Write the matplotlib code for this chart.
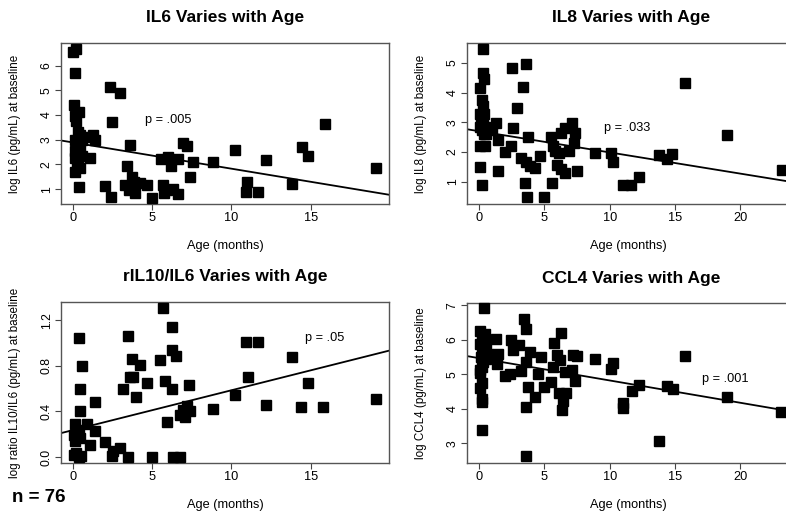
import matplotlib
matplotlib.use("Agg")
import matplotlib.pyplot as plt

plt.rcParams["font.family"] = ["Liberation Sans", "DejaVu Sans"]

# ── Data (age in months, log value) ──
il6_age = [0.0, 0.2, 0.13, 0.02, 0.34, 0.1, 0.15, 0.3, 0.45, 0.1, 0.55, 0.25, 0.45,
           0.1, 0.35, 0.55, 0.13, 0.3, 0.23, 0.4, 0.13, 0.34, 1.07, 1.28, 1.38, 0.9,
           2.33, 2.96, 2.44, 3.6, 3.38, 2.0, 2.37, 3.25, 3.5, 3.7, 3.85, 3.9, 4.2,
           4.65, 4.96, 3.6, 5.55, 6.0, 6.2, 6.6, 5.7, 5.9, 6.3, 6.6, 5.75, 6.95,
           7.2, 7.35, 7.55, 8.85, 10.2, 10.95, 10.9, 11.7, 12.2, 13.85, 14.45,
           14.85, 15.9, 19.1]
il6_val = [6.55, 6.67, 5.7, 4.41, 4.14, 3.95, 3.75, 3.3, 3.2, 3.0, 3.0, 2.85, 2.75,
           2.55, 2.45, 2.35, 2.25, 2.2, 2.0, 1.85, 1.68, 1.1, 2.25, 3.2, 3.0, 3.1,
           5.15, 4.89, 3.74, 2.79, 1.92, 1.13, 0.68, 1.17, 0.95, 1.5, 1.3, 0.85, 1.25,
           1.17, 0.64, 1.1, 2.21, 2.32, 1.92, 2.21, 1.15, 0.95, 1.0, 0.8, 0.85, 2.88,
           2.75, 1.5, 2.12, 2.12, 2.6, 1.31, 0.9, 0.9, 2.19, 1.22, 2.7,
           2.35, 3.62, 1.85]

il8_age = [0.33, 0.33, 0.35, 0.08, 0.2, 0.3, 0.05, 0.4, 0.15, 0.3, 0.05, 0.45, 0.2,
           0.6, 0.8, 1.0, 0.35, 0.55, 0.1, 0.45, 0.1, 0.25, 1.32, 1.45, 1.45, 2.5,
           3.56, 3.38, 2.92, 2.6, 2.4, 1.98, 3.72, 3.18, 3.6, 3.87, 4.25, 4.68, 3.5,
           3.69, 4.96, 5.57, 5.47, 5.65, 5.8, 6.1, 6.23, 6.54, 7.12, 7.3, 7.23, 6.9,
           5.95, 6.28, 6.59, 7.48, 8.83, 10.1, 10.28, 11.0, 11.63, 12.2, 13.8,
           14.38, 14.76, 15.78, 19.0, 23.2]
il8_val = [5.47, 4.65, 4.45, 4.15, 3.75, 3.55, 3.28, 3.28, 3.05, 2.95, 2.85, 2.85, 2.75,
           2.8, 2.75, 2.8, 2.62, 2.6, 2.2, 2.2, 1.48, 0.89, 2.97, 2.4, 1.35, 4.83,
           4.95, 4.2, 3.48, 2.8, 2.2, 2.0, 2.49, 1.8, 1.65, 1.54, 1.45, 1.85, 0.97,
           0.47, 0.47, 0.97, 2.49, 2.2, 2.05, 1.98, 2.65, 2.82, 2.99, 2.65, 2.3, 2.04,
           1.57, 1.42, 1.31, 1.37, 1.96, 1.98, 1.65, 0.89, 0.89, 1.15, 1.9,
           1.76, 1.93, 4.33, 2.56, 1.4]

ratio_age = [0.34, 0.55, 0.4, 0.4, 1.39, 0.13, 0.86, 0.34, 0.02, 0.45, 0.13, 1.07, 1.39,
             0.02, 0.34, 0.2, 0.5, 2.02, 2.44, 2.54, 2.96, 3.49, 4.96, 6.3, 6.72,
             3.49, 3.17, 3.7, 4.22, 3.6, 3.8, 3.97, 4.68, 5.48, 5.69, 6.22, 6.22,
             6.48, 5.8, 6.22, 7.33, 5.94, 6.74, 6.95, 7.2, 7.37, 7.06, 8.84, 10.2,
             10.94, 11.68, 11.05, 12.2, 13.84, 14.41, 14.83, 15.78, 19.14]
ratio_val = [1.04, 0.80, 0.60, 0.40, 0.48, 0.29, 0.29, 0.24, 0.19, 0.17, 0.14, 0.11, 0.23,
             0.02, 0.0, 0.04, 0.01, 0.13, 0.01, 0.05, 0.08, 0.0, 0.0, 0.0, 0.0,
             1.06, 0.60, 0.86, 0.81, 0.70, 0.70, 0.53, 0.65, 0.85, 1.31, 1.14, 0.94,
             0.89, 0.67, 0.60, 0.63, 0.31, 0.37, 0.41, 0.45, 0.40, 0.35, 0.42, 0.54,
             1.01, 1.01, 0.70, 0.46, 0.88, 0.44, 0.65, 0.44, 0.51]

ccl4_age = [0.36, 0.1, 0.43, 0.25, 0.05, 0.56, 0.2, 0.4, 0.7, 0.15, 0.5, 0.3, 0.8,
            0.05, 0.1, 0.25, 0.1, 0.25, 0.18, 0.22, 0.18, 1.32, 1.45, 1.37, 1.96,
            2.34, 2.47, 2.6, 3.05, 3.23, 3.4, 3.6, 3.6, 3.92, 3.74, 3.6, 3.56, 4.25,
            4.5, 4.7, 4.94, 5.52, 5.73, 5.65, 5.95, 6.16, 6.23, 6.1, 6.41, 6.36, 6.67,
            6.54, 7.12, 7.3, 7.18, 7.48, 8.83, 10.1, 10.23, 10.99, 11.04, 11.7, 12.2,
            13.8, 14.38, 14.81, 15.78, 19.0, 23.08]
ccl4_val = [6.92, 6.26, 6.18, 6.04, 5.89, 5.87, 5.75, 5.65, 5.6, 5.5, 5.45, 5.35, 5.5,
            5.12, 5.05, 5.2, 4.61, 4.75, 4.3, 4.2, 3.4, 6.04, 5.6, 5.29, 4.95,
            5.0, 5.99, 5.72, 5.84, 5.1, 6.61, 6.32, 5.36, 5.65, 4.64, 4.06, 2.63, 4.35,
            5.02, 5.5, 4.64, 4.78, 5.91, 5.2, 5.55, 5.41, 6.2, 4.45, 4.23, 3.98, 4.45,
            5.07, 5.12, 4.81, 5.55, 5.53, 5.46, 5.17, 5.33, 4.16, 4.03, 4.51, 4.7,
            3.08, 4.66, 4.59, 5.53, 4.33, 3.92]

# fitted lines (intercept, slope) and p-value labels
fits = [(2.89, -0.106), (2.70, -0.0714), (0.237, 0.0349), (5.47, -0.0647)]
p_labels = ["p = .005", "p = .033", "p = .05", "p = .001"]
p_pos = [(6.0, 3.8), (11.3, 2.82), (15.9, 1.04), (18.8, 4.88)]

titles = ["IL6 Varies with Age", "IL8 Varies with Age",
          "rIL10/IL6 Varies with Age", "CCL4 Varies with Age"]
ylabels = ["log IL6 (pg/mL) at baseline", "log IL8 (pg/mL) at baseline",
           "log ratio IL10/IL6 (pg/mL) at baseline", "log CCL4 (pg/mL) at baseline"]
xlims = [(-0.77, 19.95), (-0.93, 24.25), (-0.77, 19.95), (-0.93, 24.25)]
ylims = [(0.40, 6.92), (0.25, 5.67), (-0.052, 1.36), (2.43, 7.07)]
xticks = [[0, 5, 10, 15], [0, 5, 10, 15, 20], [0, 5, 10, 15], [0, 5, 10, 15, 20]]
yticks = [[1, 2, 3, 4, 5, 6], [1, 2, 3, 4, 5], [0.0, 0.4, 0.8, 1.2], [3, 4, 5, 6, 7]]
ytick_labels = [None, None, ["0.0", "0.4", "0.8", "1.2"], None]

# ── Layout in pixels (left, top, right, bottom) ──
W, H = 786, 513
boxes = [(61, 43, 389, 204), (467, 43, 796, 204),
         (61, 302, 389, 463), (467, 303, 796, 463)]

fig = plt.figure(figsize=(W / 100, H / 100), dpi=100)
data = [(il6_age, il6_val), (il8_age, il8_val),
        (ratio_age, ratio_val), (ccl4_age, ccl4_val)]

for i, (l, t, r, b) in enumerate(boxes):
    ax = fig.add_axes([l / W, (H - b) / H, (r - l) / W, (b - t) / H])
    ages, vals = data[i]
    ax.plot(ages, vals, "s", color="black", markersize=7.6, linestyle="none",
            clip_on=False, zorder=3)
    b0, m = fits[i]
    ax.axline((0, b0), slope=m, color="black", linewidth=1.3, zorder=2)

    ax.set_xlim(*xlims[i])
    ax.set_ylim(*ylims[i])
    ax.set_xticks(xticks[i])
    ax.set_yticks(yticks[i])
    if ytick_labels[i]:
        ax.set_yticklabels(ytick_labels[i])
    ax.tick_params(length=4, width=0.8, color="#444444", labelsize=9.2, pad=2)
    ax.tick_params(axis="y", labelrotation=90, labelsize=8.8)
    for lab in ax.get_yticklabels():
        lab.set_va("center")
    for sp in ax.spines.values():
        sp.set_color("#555555")
        sp.set_linewidth(1.0)

    h_px = b - t
    w_px = r - l
    ax.text(0.5, 1 + 25 / h_px, titles[i], transform=ax.transAxes,
            ha="center", va="center", fontsize=12.5, fontweight="bold")
    ax.set_xlabel("Age (months)", fontsize=9.2)
    ax.xaxis.set_label_coords(0.5 if i % 2 == 0 else 0.49, -36 / h_px)
    ax.set_ylabel(ylabels[i], fontsize=8.4)
    ax.yaxis.set_label_coords(-40 / w_px, 0.5)

    px, py = p_pos[i]
    ax.text(px, py, p_labels[i], ha="center", va="center", fontsize=9.2)

fig.text(12 / W, 1 - 498 / H, "n = 76", ha="left", va="center",
         fontsize=13.5, fontweight="bold")

fig.savefig("out.png", dpi=100)
